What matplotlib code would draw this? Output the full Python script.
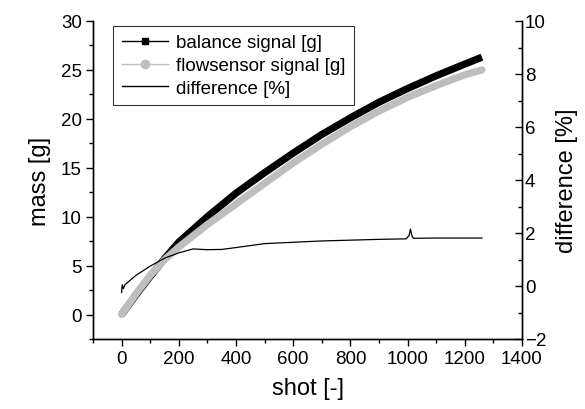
import matplotlib
matplotlib.use("Agg")
import matplotlib.pyplot as plt
from matplotlib.lines import Line2D
from matplotlib.ticker import MultipleLocator

plt.rcParams['font.family'] = ['Liberation Sans', 'DejaVu Sans']

# ---- data ----
shot_mass = [0, 50, 100, 150, 200, 300, 400, 500, 600, 700, 800, 900, 1000, 1100, 1200, 1260]
balance = [0.0, 2.0, 3.9, 5.7, 7.4, 10.0, 12.4, 14.5, 16.5, 18.4, 20.1, 21.7, 23.1, 24.4, 25.6, 26.3]
flowsensor = [0.0, 2.1, 4.0, 5.6, 6.9, 9.2, 11.3, 13.4, 15.5, 17.4, 19.2, 20.8, 22.2, 23.4, 24.5, 25.0]

shot_diff = [0, 2, 6, 12, 50, 100, 150, 200, 250, 300, 350, 400, 500, 600, 700, 800, 900,
             995, 1005, 1010, 1015, 1020, 1100, 1200, 1260]
difference = [-0.25, 0.05, -0.1, 0.05, 0.4, 0.75, 1.05, 1.25, 1.4, 1.37, 1.38, 1.45, 1.6, 1.65,
              1.7, 1.73, 1.76, 1.78, 1.9, 2.15, 1.9, 1.8, 1.81, 1.81, 1.81]

x_ticks = [0, 200, 400, 600, 800, 1000, 1200, 1400]
left_ticks = [0, 5, 10, 15, 20, 25, 30]
right_ticks = [-2, 0, 2, 4, 6, 8, 10]

grey = '#bebebe'

fig = plt.figure(figsize=(5.85, 4.10), dpi=100)
ax = fig.add_axes([93/585, 1 - 340/410, (522 - 93)/585, (340 - 22)/410])
ax2 = ax.twinx()

ax.plot(shot_mass, balance, color='black', lw=5.2, solid_capstyle='butt', zorder=2)
ax.plot(shot_mass, flowsensor, color=grey, lw=5.2, solid_capstyle='round', zorder=3)
ax2.plot(shot_diff, difference, color='black', lw=0.9, zorder=4)

ax.set_xlim(-100, 1400)
ax.set_ylim(-2.5, 30)
ax2.set_ylim(-2, 10)

ax.set_xticks(x_ticks)
ax.set_yticks(left_ticks)
ax2.set_yticks(right_ticks)
ax.xaxis.set_minor_locator(MultipleLocator(100))
ax.yaxis.set_minor_locator(MultipleLocator(2.5))
ax2.yaxis.set_minor_locator(MultipleLocator(1))

for a in (ax, ax2):
    a.spines['top'].set_visible(False)
    for s in a.spines.values():
        s.set_linewidth(1.0)

ax.tick_params(axis='both', which='major', direction='out', length=5, width=1,
               labelsize=13.5, pad=3)
ax.tick_params(axis='both', which='minor', direction='out', length=3, width=1)
ax2.tick_params(axis='y', which='major', direction='in', length=5, width=1,
                labelsize=13.5, pad=2)
ax2.tick_params(axis='y', which='minor', direction='in', length=3, width=1)

ax.set_xlabel('shot [-]', fontsize=17, labelpad=7)
ax.set_ylabel('mass [g]', fontsize=17, labelpad=7)
ax2.set_ylabel('difference [%]', fontsize=17, labelpad=7)

handles = [
    Line2D([], [], color='black', lw=1, marker='s', markersize=5),
    Line2D([], [], color=grey, lw=1, marker='o', markersize=6),
    Line2D([], [], color='black', lw=1),
]
labels = ['balance signal [g]', 'flowsensor signal [g]', 'difference [%]']
leg = ax2.legend(handles, labels, loc='upper left', bbox_to_anchor=(0.047, 0.985),
                 fontsize=13.5, frameon=True, fancybox=False, edgecolor='black',
                 handlelength=2.5, handletextpad=0.4, labelspacing=0.3,
                 borderpad=0.45, borderaxespad=0)
leg.get_frame().set_linewidth(0.8)

fig.savefig('out.png', dpi=100)
